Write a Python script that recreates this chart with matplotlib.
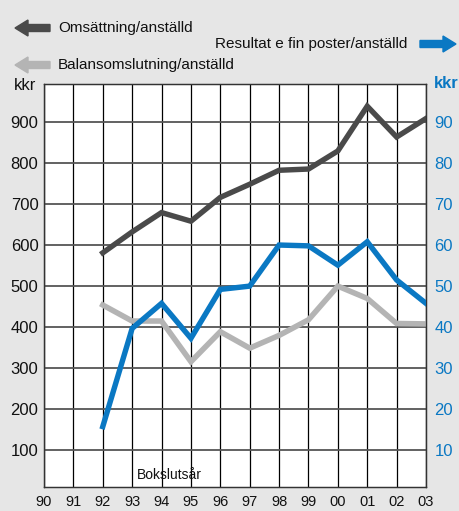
import matplotlib
matplotlib.use("Agg")
import matplotlib.pyplot as plt
import numpy as np
from matplotlib.patches import FancyArrow

plt.rcParams['font.family'] = ['Liberation Sans', 'DejaVu Sans']

year_labels = ["90", "91", "92", "93", "94", "95", "96", "97", "98", "99", "00", "01", "02", "03"]
data_years = ["92", "93", "94", "95", "96", "97", "98", "99", "00", "01", "02", "03"]
omsattning = [581, 632, 679, 658, 716, 748, 782, 785, 829, 938, 863, 908]
balans = [454, 415, 415, 316, 389, 349, 380, 418, 500, 470, 409, 408]
resultat = [15.8, 39.7, 45.8, 37.3, 49.2, 50.0, 60.0, 59.8, 55.1, 60.8, 51.5, 45.8]
left_ticks = [100, 200, 300, 400, 500, 600, 700, 800, 900]
right_ticks = [10, 20, 30, 40, 50, 60, 70, 80, 90]

C_DARK = "#4a4a4a"
C_LIGHT = "#b4b4b4"
C_BLUE = "#0a78c3"
BG = "#e6e6e6"

W, H = 459, 511
fig = plt.figure(figsize=(W / 100, H / 100), dpi=100, facecolor=BG)
ax = fig.add_axes([44 / W, 1 - 487 / H, (426 - 44) / W, (487 - 84) / H])
ax.set_facecolor("white")

xpos = {lab: i for i, lab in enumerate(year_labels)}
xd = [xpos[y] for y in data_years]

ax.set_xlim(0, len(year_labels) - 1)
ax.set_ylim(11, 992)

for i in range(len(year_labels)):
    ax.axvline(i, color="black", lw=0.9, zorder=1)
for v in left_ticks:
    ax.axhline(v, color="#555555", lw=1.3, zorder=1)

ax2 = ax.twinx()
ax2.set_ylim(1.1, 99.2)

ax.plot(xd, omsattning, color=C_DARK, lw=3.9, solid_joinstyle="miter", zorder=3)
ax.plot(xd, balans, color=C_LIGHT, lw=4.0, solid_joinstyle="miter", zorder=3)
ax2.plot(xd, resultat, color=C_BLUE, lw=3.9, solid_joinstyle="miter", zorder=3)

ax.set_yticks(left_ticks)
ax.set_yticklabels([str(v) for v in left_ticks], fontsize=12, color="#111111")
ax2.set_yticks(right_ticks)
ax2.set_yticklabels([str(v) for v in right_ticks], fontsize=12, color=C_BLUE)
ax.set_xticks(range(len(year_labels)))
ax.set_xticklabels(year_labels, fontsize=10.5, color="#111111")
ax.tick_params(axis="both", length=0)
ax.tick_params(axis="y", pad=4)
ax.tick_params(axis="x", pad=6)
ax2.tick_params(axis="y", length=0, pad=6)

for a in (ax, ax2):
    for s in a.spines.values():
        s.set_color("#333333")
        s.set_linewidth(0.9)

ax.text(3.15, 40, "Bokslutsår", fontsize=10, color="#111111", va="center", ha="left")

fig.text(14 / W, 1 - 86 / H, "kkr", fontsize=12, color="#111111", va="center", ha="left")
fig.text(434 / W, 1 - 84 / H, "kkr", fontsize=12, color=C_BLUE, va="center", ha="left",
         fontweight="bold")

# legend entries with arrows
def arrow(x0, x1, y, color):
    dx = (x1 - x0) / W
    fig.patches.append(FancyArrow(x0 / W, 1 - y / H, dx, 0, width=7 / H,
                                  head_width=16 / H, head_length=13 / W,
                                  length_includes_head=True, color=color,
                                  transform=fig.transFigure, figure=fig))

arrow(50, 15, 28, C_DARK)
arrow(50, 15, 65, C_LIGHT)
arrow(420, 456, 44, C_BLUE)
fig.text(58 / W, 1 - 28 / H, "Omsättning/anställd", fontsize=11, color="#111111", va="center")
fig.text(58 / W, 1 - 65 / H, "Balansomslutning/anställd", fontsize=11, color="#111111", va="center")
fig.text(407 / W, 1 - 44 / H, "Resultat e fin poster/anställd", fontsize=11, color="#111111",
         va="center", ha="right")

fig.savefig("out.png", dpi=100, facecolor=BG)
